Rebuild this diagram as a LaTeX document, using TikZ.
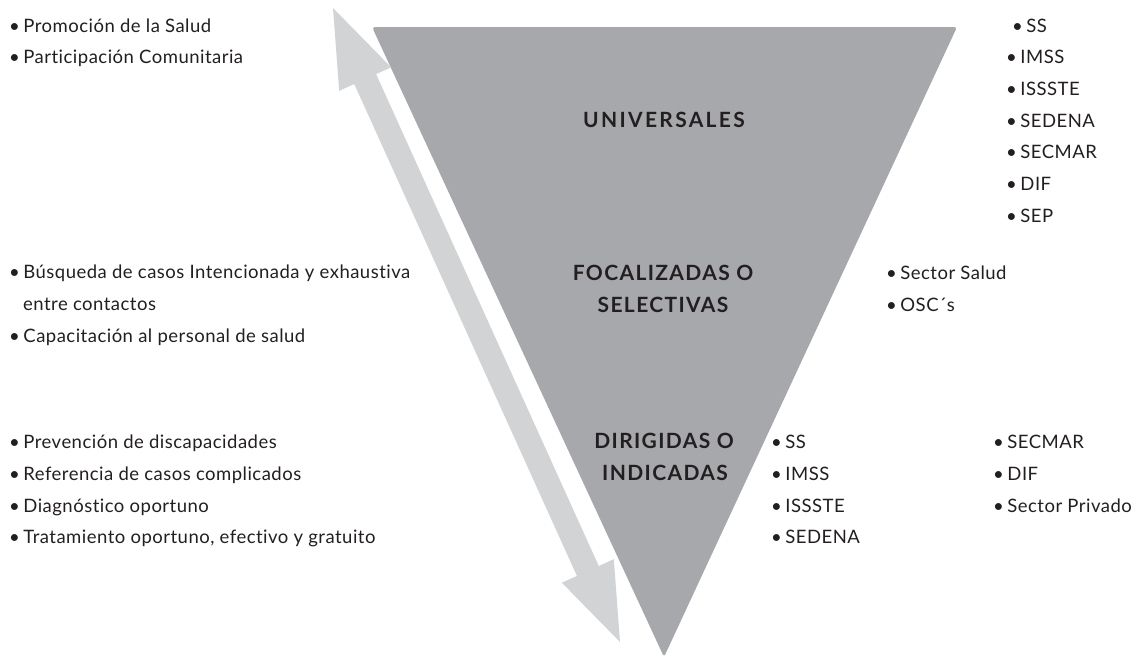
\documentclass[tikz,border=0pt]{standalone}
\usepackage{fontspec}
\setmainfont{Lato}[Ligatures={NoCommon}]
\usetikzlibrary{calc}
\definecolor{tri}{HTML}{A7A8AB}
\definecolor{arr}{HTML}{D1D3D4}
\definecolor{ink}{HTML}{231F20}
\newcommand\bl{•\hspace{3.5pt}}
\begin{document}
\begin{tikzpicture}[x=1pt,y=-1pt,
  txt/.style={anchor=base west,inner sep=0pt,text=ink,font=\fontsize{18.5}{20}\selectfont\addfontfeatures{LetterSpace=2.6}},
  ttl/.style={anchor=base,inner sep=0pt,text=ink,font=\fontsize{21}{22}\selectfont\bfseries\addfontfeatures{LetterSpace=6.5}},
  ttlw/.style={ttl,font=\fontsize{21}{22}\selectfont\bfseries\addfontfeatures{LetterSpace=11}}]
\useasboundingbox (0,0) rectangle (1139,657);
\fill[white] (0,0) rectangle (1139,657);
% triangle
\fill[tri,rounded corners=3pt] (372,27) -- (957,27) -- (664,657) -- cycle;
% double arrow
\coordinate (A) at (333,8);
\coordinate (B) at (620,642);
\coordinate (Ah) at ($(A)!78pt!(B)$);
\coordinate (Bh) at ($(B)!78pt!(A)$);
\fill[arr] (A) -- ($(Ah)!28.5pt!90:(B)$) -- ($(Ah)!12pt!90:(B)$) -- ($(Bh)!12pt!-90:(A)$)
  -- ($(Bh)!28.5pt!-90:(A)$) -- (B) -- ($(Bh)!28.5pt!90:(A)$) -- ($(Bh)!12pt!90:(A)$)
  -- ($(Ah)!12pt!-90:(B)$) -- ($(Ah)!28.5pt!-90:(B)$) -- cycle;
% titles
\node[ttlw] (t1) at (664,127) {UNIVERSALES};
\node[ttl] (t2a) at (663,280) {FOCALIZADAS O};
\node[ttl] (t2b) at (663,312) {SELECTIVAS};
\node[ttl] (t3a) at (664,448) {DIRIGIDAS O};
\node[ttl] (t3b) at (665,480) {INDICADAS};
% left top
\node[txt] (l1) at (9,32) {\bl Promoción de la Salud};
\node[txt] (l2) at (9,63) {\bl Participación Comunitaria};
% left middle
\node[txt] (l3) at (9,278) {\bl Búsqueda de casos Intencionada y exhaustiva};
\node[txt] (l4) at (23,310) {entre contactos};
\node[txt] (l5) at (9,342) {\bl Capacitación al personal de salud};
% left bottom
\node[txt] (l6) at (9,448) {\bl Prevención de discapacidades};
\node[txt] (l7) at (9,480) {\bl Referencia de casos complicados};
\node[txt] (l8) at (9,512) {\bl Diagnóstico oportuno};
\node[txt] (l9) at (9,543) {\bl Tratamiento oportuno, efectivo y gratuito};
% right top
\node[txt] (r1) at (1012,32) {\bl SS};
\node[txt] (r2) at (1006,63) {\bl IMSS};
\node[txt] (r3) at (1006,95) {\bl ISSSTE};
\node[txt] (r4) at (1006,127) {\bl SEDENA};
\node[txt] (r5) at (1006,158) {\bl SECMAR};
\node[txt] (r6) at (1006,190) {\bl DIF};
\node[txt] (r7) at (1006,222) {\bl SEP};
% right middle
\node[txt] (m1) at (886,279) {\bl Sector Salud};
\node[txt] (m2) at (886,311) {\bl OSC´s};
% right bottom
\node[txt] (b1) at (771,448) {\bl SS};
\node[txt] (b2) at (771,480) {\bl IMSS};
\node[txt] (b3) at (771,512) {\bl ISSSTE};
\node[txt] (b4) at (771,543) {\bl SEDENA};
\node[txt] (b5) at (993,448) {\bl SECMAR};
\node[txt] (b6) at (993,480) {\bl DIF};
\node[txt] (b7) at (993,512) {\bl Sector Privado};
\end{tikzpicture}
\end{document}
